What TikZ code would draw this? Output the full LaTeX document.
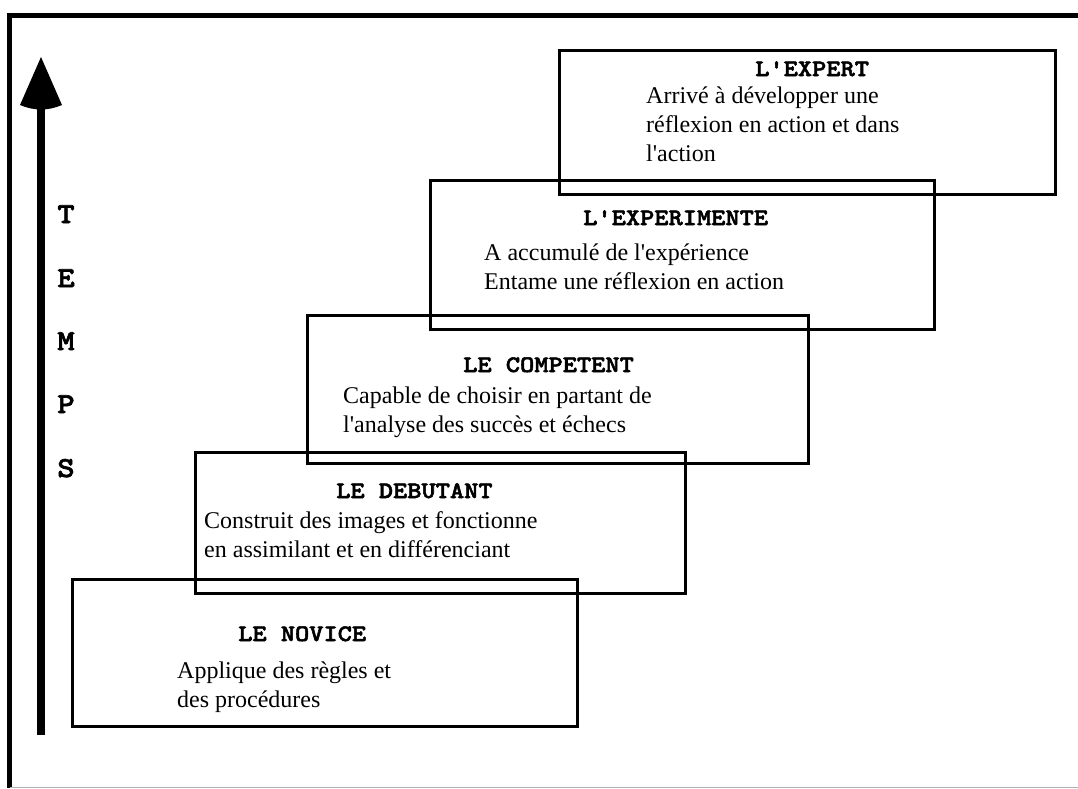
\documentclass[tikz,border=0pt]{standalone}
\usepackage{fontspec}
\setmainfont{Liberation Serif}[Ligatures=TeXOff]
\newfontfamily\headfont{lmmonolt10-bold}[Extension=.otf, FakeStretch=1.143, FakeBold=2.2]
\begin{document}
\begin{tikzpicture}[x=1pt,y=-1pt,
  stage/.style={draw=black, line width=3pt, inner sep=0pt, outer sep=0pt, anchor=north west},
  head/.style={anchor=base west, inner sep=0pt, font=\headfont\fontsize{23.7}{23.7}\selectfont},
  body/.style={anchor=base west, inner sep=0pt, align=left, font=\fontsize{24}{28.7}\selectfont},
  letter/.style={anchor=base, inner sep=0pt, font=\headfont\fontsize{29}{29}\selectfont}]
\useasboundingbox[fill=white] (0,0) rectangle (1078,788);

% page frame
\draw[line width=5pt] (9.5,788) -- (9.5,15) -- (1078,15);
\draw[black!30, line width=1pt] (9.5,787.5) -- (1078,787.5);

% time axis
\coordinate (axisfoot) at (41,735);
\coordinate (axistip) at (41,57);
\draw[line width=8pt] (axisfoot) -- (41,100);
\fill (axistip) -- (20,105) .. controls (34,111) and (48,111) .. (62,105) -- cycle;
\foreach \ch/\yy in {T/223, E/287, M/350, P/413, S/477}
  \node[letter] (axis-\ch) at (66,\yy) {\ch};

% stages
\node[stage, minimum width=505pt, minimum height=147pt] (novice) at (72,579) {};
\node[stage, minimum width=490pt, minimum height=141pt] (debutant) at (195,452) {};
\node[stage, minimum width=501pt, minimum height=148pt] (competent) at (307,315) {};
\node[stage, minimum width=504pt, minimum height=149pt] (experimente) at (430,180) {};
\node[stage, minimum width=496pt, minimum height=144pt] (expert) at (559,50) {};

% texts (body nodes are anchored at the baseline of their last line)
\node[head] (novice-t) at (238,641) {LE NOVICE};
\node[body] (novice-b) at (177,707) {Applique des règles et\\des procédures};

\node[head] (debutant-t) at (336,498) {LE DEBUTANT};
\node[body] (debutant-b) at (204,557) {Construit des images et fonctionne\\en assimilant et en différenciant};

\node[head] (competent-t) at (463,372) {LE COMPETENT};
\node[body] (competent-b) at (343,432) {Capable de choisir en partant de\\l'analyse des succès et échecs};

\node[head] (experimente-t) at (583,225) {L'EXPERIMENTE};
\node[body] (experimente-b) at (484,289) {A accumulé de l'expérience\\Entame une réflexion en action};

\node[head] (expert-t) at (755,76) {L'EXPERT};
\node[body] (expert-b) at (646,161) {Arrivé à développer une\\réflexion en action et dans\\l'action};
\end{tikzpicture}
\end{document}
